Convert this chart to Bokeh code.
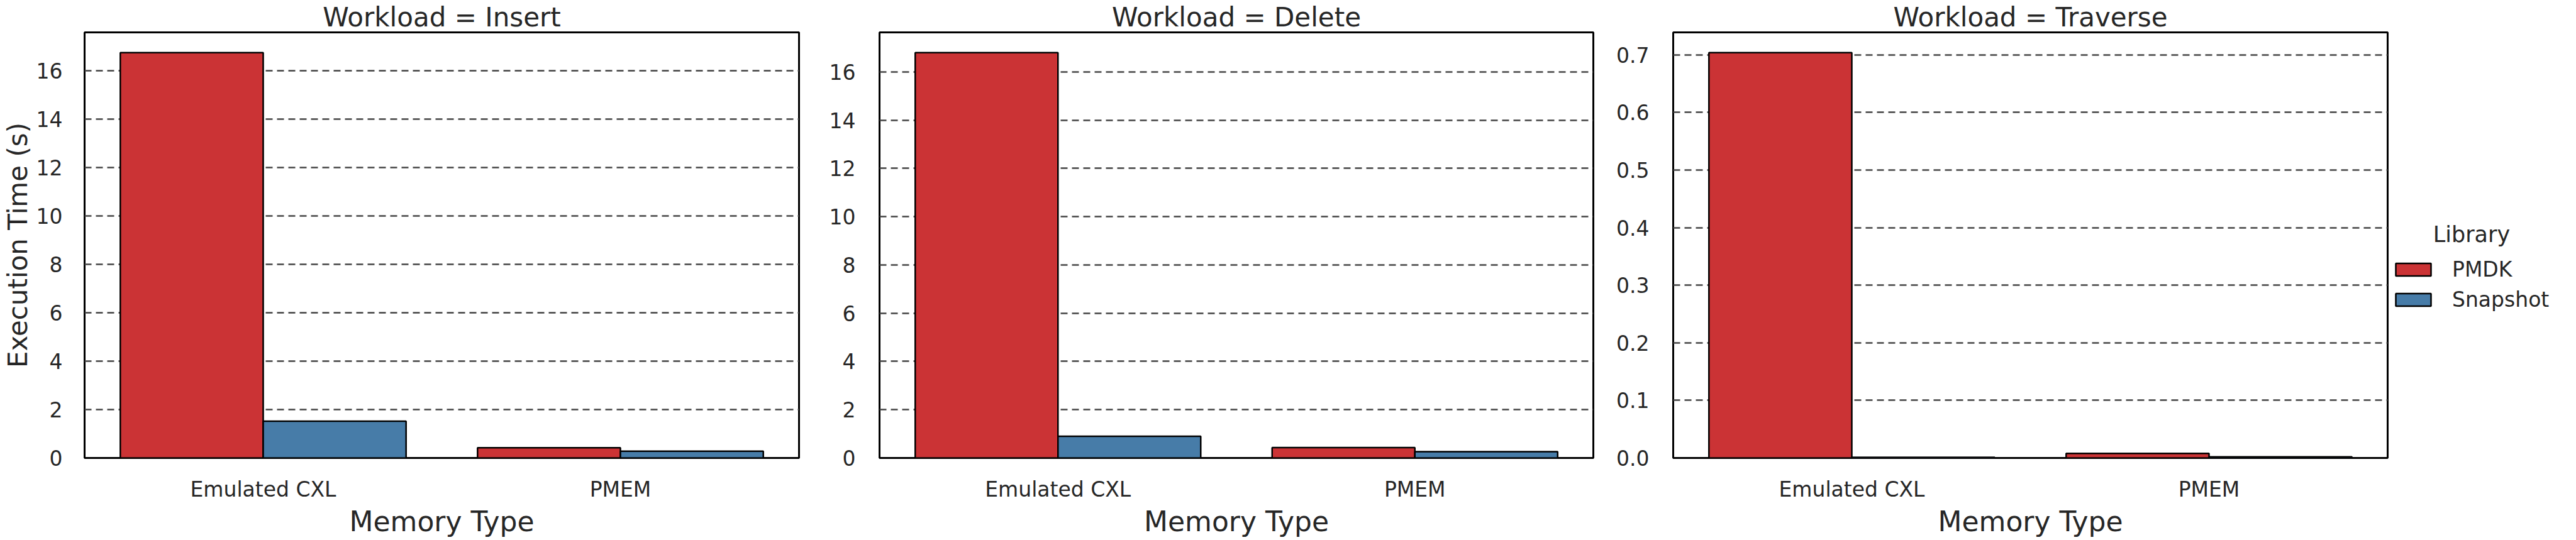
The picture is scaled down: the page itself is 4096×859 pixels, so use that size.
from bokeh.plotting import figure
from bokeh.layouts import row
from bokeh.models import (ColumnDataSource, Range1d, FactorRange, SingleIntervalTicker,
                          NumeralTickFormatter, Legend, LegendItem)
from bokeh.transform import dodge
from bokeh.embed import file_html
from bokeh.resources import INLINE

# ---- data ----
memory_types = ["Emulated CXL", "PMEM"]
libraries = ["PMDK", "Snapshot"]
workloads = ["Insert", "Delete", "Traverse"]
pmdk_insert = [16.76, 0.42]
snapshot_insert = [1.52, 0.28]
pmdk_delete = [16.80, 0.43]
snapshot_delete = [0.90, 0.26]
pmdk_traverse = [0.704, 0.008]
snapshot_traverse = [0.001, 0.002]
legend_title = "Library"

colors = ["#cb3335", "#477ca8"]
FONT = "DejaVu Sans"
TEXT = "#262626"

FRAME_H = 677
TOP = 49
BOTTOM = 117


def make_panel(workload, pmdk, snap, left, frame_w, right, tick_int, fmt, ylabel=None, legend=False):
    ymax = max(pmdk + snap) * 1.05
    p = figure(x_range=FactorRange(factors=memory_types, range_padding=0),
               y_range=Range1d(0, ymax),
               frame_width=frame_w, frame_height=FRAME_H,
               min_border_left=left, min_border_right=right,
               min_border_top=TOP, min_border_bottom=BOTTOM,
               output_backend="svg", toolbar_location=None,
               title=f"Workload = {workload}")
    src = ColumnDataSource(dict(mem=memory_types, pmdk=pmdk, snap=snap))
    r1 = p.vbar(x=dodge("mem", -0.2, range=p.x_range), top="pmdk", width=0.4, source=src,
                fill_color=colors[0], line_color="black", line_width=2.5)
    r2 = p.vbar(x=dodge("mem", 0.2, range=p.x_range), top="snap", width=0.4, source=src,
                fill_color=colors[1], line_color="black", line_width=2.5)

    p.title.align = "center"
    p.title.text_font = FONT
    p.title.text_font_size = "42px"
    p.title.text_font_style = "normal"
    p.title.text_color = TEXT
    p.title.standoff = 0

    p.outline_line_color = "black"
    p.outline_line_width = 3
    p.outline_line_alpha = 1
    p.background_fill_color = "white"
    p.border_fill_color = "white"

    p.xgrid.visible = False
    p.ygrid.grid_line_color = "#444444"
    p.ygrid.grid_line_dash = "11 7"
    p.ygrid.grid_line_width = 2.5

    for ax in (p.xaxis, p.yaxis):
        ax.axis_line_color = None
        ax.major_tick_line_color = None
        ax.minor_tick_line_color = None
        ax.major_label_text_font = FONT
        ax.major_label_text_font_size = "33px"
        ax.major_label_text_color = TEXT
        ax.axis_label_text_font = FONT
        ax.axis_label_text_font_style = "normal"
        ax.axis_label_text_color = TEXT

    p.xaxis.axis_label = "Memory Type"
    p.xaxis.axis_label_text_font_size = "44px"
    p.xaxis.major_label_standoff = 24
    p.xaxis.axis_label_standoff = 3

    p.yaxis.ticker = SingleIntervalTicker(interval=tick_int)
    p.yaxis.formatter = NumeralTickFormatter(format=fmt)
    p.yaxis.major_label_standoff = 32
    if ylabel:
        p.yaxis.major_label_standoff = 29
        p.yaxis.axis_label = ylabel
        p.yaxis.axis_label_text_font_size = "42px"
        p.yaxis.axis_label_standoff = 2

    if legend:
        # non-breaking spaces push the title to the centre of the entries
        lg = Legend(items=[LegendItem(label=libraries[0], renderers=[r1]),
                           LegendItem(label=libraries[1], renderers=[r2])],
                    title="\u00a0" * 6 + legend_title, location=(6, 232))
        lg.label_text_font = FONT
        lg.label_text_font_size = "33px"
        lg.label_text_color = TEXT
        lg.title_text_font = FONT
        lg.title_text_font_size = "35px"
        lg.title_text_font_style = "normal"
        lg.title_text_color = TEXT
        lg.title_standoff = 16
        lg.glyph_width = 70
        lg.glyph_height = 25
        lg.label_standoff = 27
        lg.spacing = 9
        lg.padding = 10
        lg.margin = 0
        lg.border_line_color = None
        lg.background_fill_alpha = 0
        p.add_layout(lg, "right")
    return p


p1 = make_panel(workloads[0], pmdk_insert, snapshot_insert, 125, 1136, 10, 2, "0",
                ylabel="Execution Time (s)")
p2 = make_panel(workloads[1], pmdk_delete, snapshot_delete, 118, 1135, 10, 2, "0")
p3 = make_panel(workloads[2], pmdk_traverse, snapshot_traverse, 117, 1136, 283, 0.1, "0.0",
                legend=True)

layout = row(p1, p2, p3)
open("out.html", "w").write(file_html(layout, INLINE))
